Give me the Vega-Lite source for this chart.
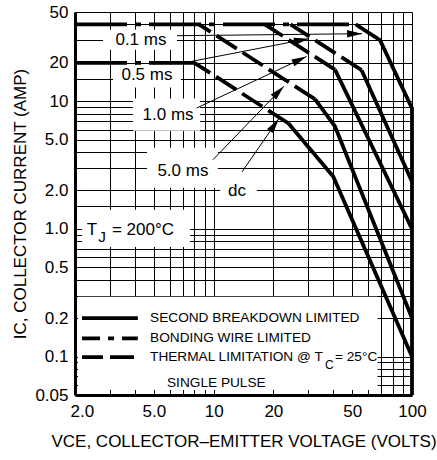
{
  "$schema": "https://vega.github.io/schema/vega-lite/v6.json",
  "width": 337,
  "height": 383,
  "autosize": {"type": "none"},
  "padding": {"left": 75, "top": 12, "right": 25, "bottom": 65},
  "background": "white",
  "config": {"font": "Liberation Sans", "view": {"stroke": null}},
  "datasets": {
    "boxes": [
      {"box": "0.1 ms", "V": 2.77, "V2": 6.53, "I": 36.3, "I2": 25.3},
      {"box": "0.5 ms", "V": 3.11, "V2": 6.84, "I": 19.3, "I2": 12.8},
      {"box": "1.0 ms", "V": 3.92, "V2": 8.53, "I": 10.5, "I2": 5.87},
      {"box": "5.0 ms", "V": 4.61, "V2": 10.5, "I": 4.32, "I2": 2.1},
      {"box": "dc", "V": 10.8, "V2": 16.5, "I": 2.51, "I2": 1.57},
      {"box": "TJ", "V": 2.17, "V2": 7.6, "I": 1.41, "I2": 0.72},
      {"box": "key", "V": 2.07, "V2": 67, "I": 0.294, "I2": 0.0548}
    ],
    "curves": [
      {"seg": "bond40", "limit": "Bonding wire", "o": 1, "V": 2, "I": 40},
      {"seg": "bond40", "limit": "Bonding wire", "o": 2, "V": 52, "I": 40},
      {"seg": "bond20", "limit": "Bonding wire", "o": 1, "V": 2, "I": 20},
      {"seg": "bond20", "limit": "Bonding wire", "o": 2, "V": 8.0, "I": 20},
      {"seg": "th05", "limit": "Thermal", "o": 1, "V": 55.7, "I": 17.5},
      {"seg": "th05", "limit": "Thermal", "o": 2, "V": 24.4, "I": 40},
      {"seg": "th1", "limit": "Thermal", "o": 1, "V": 40.9, "I": 17.7},
      {"seg": "th1", "limit": "Thermal", "o": 2, "V": 18.1, "I": 40},
      {"seg": "th5", "limit": "Thermal", "o": 1, "V": 32.4, "I": 10.4},
      {"seg": "th5", "limit": "Thermal", "o": 2, "V": 8.43, "I": 40},
      {"seg": "thdc", "limit": "Thermal", "o": 1, "V": 23.8, "I": 6.72},
      {"seg": "thdc", "limit": "Thermal", "o": 2, "V": 8.0, "I": 20},
      {"seg": "sb01", "limit": "Second breakdown", "o": 1, "V": 52, "I": 40},
      {"seg": "sb01", "limit": "Second breakdown", "o": 2, "V": 69, "I": 30.1},
      {"seg": "sb01", "limit": "Second breakdown", "o": 3, "V": 100, "I": 8.8},
      {"seg": "sb01", "limit": "Second breakdown", "o": 4, "V": 100, "I": 0.05},
      {"seg": "sb05", "limit": "Second breakdown", "o": 1, "V": 55.7, "I": 17.5},
      {"seg": "sb05", "limit": "Second breakdown", "o": 2, "V": 100, "I": 2.35},
      {"seg": "sb1", "limit": "Second breakdown", "o": 1, "V": 40.9, "I": 17.7},
      {"seg": "sb1", "limit": "Second breakdown", "o": 2, "V": 100, "I": 1.0},
      {"seg": "sb5", "limit": "Second breakdown", "o": 1, "V": 32.4, "I": 10.4},
      {"seg": "sb5", "limit": "Second breakdown", "o": 2, "V": 40.9, "I": 6.35},
      {"seg": "sb5", "limit": "Second breakdown", "o": 3, "V": 100, "I": 0.2},
      {"seg": "sbdc", "limit": "Second breakdown", "o": 1, "V": 23.8, "I": 6.72},
      {"seg": "sbdc", "limit": "Second breakdown", "o": 2, "V": 40.1, "I": 2.57},
      {"seg": "sbdc", "limit": "Second breakdown", "o": 3, "V": 100, "I": 0.1}
    ],
    "key": [
      {"limit": "Second breakdown", "o": 1, "V": 2.17, "I": 0.2},
      {"limit": "Second breakdown", "o": 2, "V": 4.15, "I": 0.2},
      {"limit": "Bonding wire", "o": 1, "V": 2.17, "I": 0.139},
      {"limit": "Bonding wire", "o": 2, "V": 4.15, "I": 0.139},
      {"limit": "Thermal", "o": 1, "V": 2.17, "I": 0.0989},
      {"limit": "Thermal", "o": 2, "V": 4.15, "I": 0.0989}
    ],
    "arrows": [
      {"label": "0.1 ms", "V": 56, "I": 33.8, "V2": 6.53, "I2": 32.6, "angle": -0.6},
      {"label": "0.5 ms", "V": 30.2, "I": 30.9, "V2": 6.76, "I2": 19.7, "angle": -11},
      {"label": "1.0 ms", "V": 29.4, "I": 22.4, "V2": 8.21, "I2": 8.85, "angle": -25},
      {"label": "5.0 ms", "V": 22.6, "I": 13.1, "V2": 9.92, "I2": 3.48, "angle": -46},
      {"label": "dc", "V": 21.3, "I": 7.29, "V2": 13.9, "I2": 2.8, "angle": -55}
    ],
    "labels": [
      {"text": "0.1 ms", "V": 4.30, "I": 30.3},
      {"text": "0.5 ms", "V": 4.61, "I": 16.1},
      {"text": "1.0 ms", "V": 5.89, "I": 7.83},
      {"text": "5.0 ms", "V": 7.0, "I": 2.85},
      {"text": "dc", "V": 13.1, "I": 1.99}
    ],
    "notes": [
      {"text": "T", "V": 2.29, "I": 0.98, "kind": "main"},
      {"text": "J", "V": 2.62, "I": 0.87, "kind": "sub"},
      {"text": "= 200°C", "V": 3.07, "I": 0.98, "kind": "main"},
      {"text": "SECOND BREAKDOWN LIMITED", "V": 4.78, "I": 0.2, "kind": "key"},
      {"text": "BONDING WIRE LIMITED", "V": 4.78, "I": 0.139, "kind": "key"},
      {"text": "THERMAL LIMITATION @ T", "V": 4.78, "I": 0.099, "kind": "key"},
      {"text": "C", "V": 36.4, "I": 0.086, "kind": "keysub"},
      {"text": "= 25°C", "V": 40.9, "I": 0.099, "kind": "key"},
      {"text": "SINGLE PULSE", "V": 5.82, "I": 0.0625, "kind": "key"}
    ]
  },
  "encoding": {
    "x": {
      "field": "V", "type": "quantitative",
      "scale": {"type": "log", "domain": [2, 100], "nice": false},
      "axis": {
        "values": [2, 3, 4, 5, 6, 7, 8, 9, 10, 20, 30, 40, 50, 60, 70, 80, 90, 100],
        "grid": true, "gridColor": "#000", "gridWidth": 1, "gridOpacity": 1,
        "ticks": false, "domainColor": "#000", "domainWidth": 3,
        "labelExpr": "indexof([2,5,10,20,50,100], datum.value) >= 0 ? (datum.value < 10 ? format(datum.value, '.1f') : format(datum.value, 'd')) : ''",
        "labelFontSize": 17, "labelColor": "#000", "labelPadding": 8,
        "labelFlush": false, "labelOverlap": false,
        "labelAlign": {"condition": {"test": "datum.value == 2", "value": "left"}, "value": "center"},
        "labelOffset": {"condition": {"test": "datum.value == 2", "value": -5}, "value": 0},
        "title": "VCE, COLLECTOR–EMITTER VOLTAGE (VOLTS)",
        "titleFontSize": 17, "titleFontWeight": "normal", "titleColor": "#000", "titlePadding": 14
      }
    },
    "y": {
      "field": "I", "type": "quantitative",
      "scale": {"type": "log", "domain": [0.05, 50], "nice": false},
      "axis": {
        "values": [0.05, 0.06, 0.07, 0.08, 0.09, 0.1, 0.2, 0.3, 0.4, 0.5, 0.6, 0.7, 0.8, 0.9, 1, 1.5, 2, 3, 4, 5, 6, 7, 8, 9, 10, 15, 20, 30, 40, 50],
        "grid": true, "gridColor": "#000", "gridWidth": 1, "gridOpacity": 1,
        "ticks": false, "domainColor": "#000", "domainWidth": 3,
        "labelExpr": "indexof([0.05,0.1,0.2,0.5,1,2,5,10,20,50], datum.value) >= 0 ? (datum.value < 1 ? format(datum.value, '~g') : datum.value < 10 ? format(datum.value, '.1f') : format(datum.value, 'd')) : ''",
        "labelFontSize": 17, "labelColor": "#000", "labelPadding": 7,
        "labelOverlap": false, "labelBaseline": "middle",
        "title": "IC, COLLECTOR CURRENT (AMP)",
        "titleFontSize": 17, "titleFontWeight": "normal", "titleColor": "#000", "titlePadding": 5
      }
    }
  },
  "layer": [
    {
      "data": {"name": "boxes"},
      "mark": {"type": "rect", "fill": "white", "strokeWidth": 0},
      "encoding": {"x2": {"field": "V2"}, "y2": {"field": "I2"}}
    },
    {
      "data": {"name": "curves"},
      "mark": {"type": "line", "color": "black", "strokeWidth": 3.8, "strokeCap": "butt", "strokeJoin": "miter"},
      "encoding": {
        "strokeDash": {"field": "limit", "type": "nominal", "legend": null,
          "scale": {"domain": ["Second breakdown", "Bonding wire", "Thermal"], "range": [[1, 0], [52, 8, 6, 8], [24, 7]]}},
        "detail": {"field": "seg"},
        "order": {"field": "o", "type": "quantitative"}
      }
    },
    {
      "data": {"name": "key"},
      "mark": {"type": "line", "color": "black", "strokeWidth": 3.8, "strokeCap": "butt", "strokeDashOffset": 34},
      "encoding": {
        "strokeDash": {"field": "limit", "type": "nominal", "legend": null},
        "detail": {"field": "limit"},
        "order": {"field": "o", "type": "quantitative"}
      }
    },
    {
      "data": {"name": "arrows"},
      "mark": {"type": "rule", "color": "black", "strokeWidth": 1},
      "encoding": {"x2": {"field": "V2"}, "y2": {"field": "I2"}}
    },
    {
      "data": {"name": "arrows"},
      "mark": {"type": "point", "shape": "M0,0L-2,-0.5L-2,0.5Z", "filled": true, "color": "black", "opacity": 1, "size": 225, "strokeWidth": 0},
      "encoding": {"angle": {"field": "angle", "type": "quantitative", "scale": null}}
    },
    {
      "data": {"name": "labels"},
      "mark": {"type": "text", "fontSize": 17, "align": "center", "baseline": "middle", "color": "black"},
      "encoding": {"text": {"field": "text"}}
    },
    {
      "data": {"name": "notes"},
      "mark": {"type": "text", "align": "left", "baseline": "middle", "color": "black"},
      "encoding": {
        "text": {"field": "text"},
        "size": {"field": "kind", "type": "nominal", "legend": null,
          "scale": {"domain": ["main", "sub", "key", "keysub"], "range": [17, 12, 12.5, 10]}}
      }
    }
  ]
}
